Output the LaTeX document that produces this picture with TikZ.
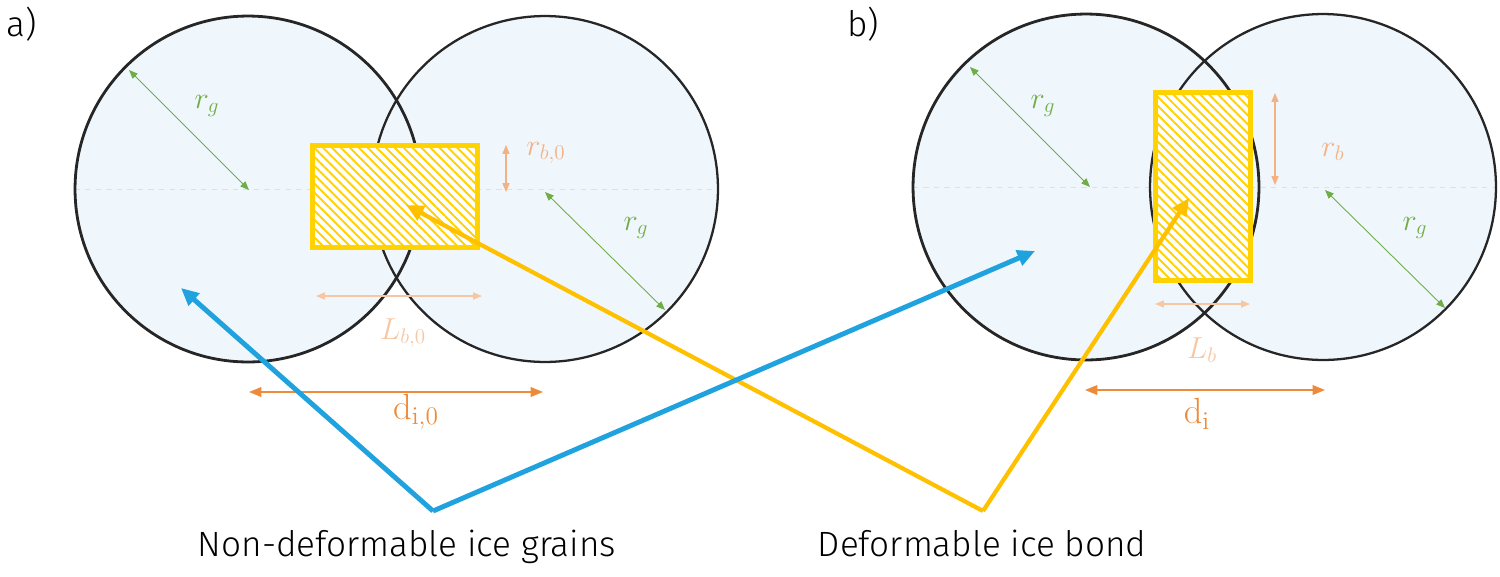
\documentclass[tikz,border=0pt]{standalone}
\usepackage[no-math]{fontspec}
\setmainfont{Fira Sans}[UprightFont={* Light}]
\usetikzlibrary{arrows.meta,patterns.meta}
\definecolor{grainfill}{HTML}{F0F7FC}
\definecolor{gr}{HTML}{70AD47}
\definecolor{lor}{HTML}{F4B183}
\definecolor{llor}{HTML}{F7C6A3}
\definecolor{dor}{HTML}{EE8B3A}
\definecolor{bl}{HTML}{1FA2DE}
\definecolor{gold}{HTML}{FFC000}
\definecolor{rectyel}{HTML}{FFD200}
\tikzset{
  grain/.style={circle,fill=grainfill,minimum size=6.92cm,inner sep=0pt},
  grainline/.style={draw=black!85,line width=1.3pt},
  bondbox/.style={draw=rectyel,line width=2.8pt,inner sep=0pt,
    preaction={fill=white},
    pattern={Lines[angle=-45,distance=3.6pt,line width=1.1pt]},pattern color=rectyel},
  rgarrow/.style={draw=gr,line width=0.5pt,{Triangle[length=5pt,width=4pt]}-{Triangle[length=5pt,width=4pt]}},
  rbarrow/.style={draw=lor,line width=0.6pt,{Triangle[length=5pt,width=4pt]}-{Triangle[length=5pt,width=4pt]}},
  darrow/.style={draw=dor,line width=0.9pt,{Triangle[length=7pt,width=5.5pt]}-{Triangle[length=7pt,width=5.5pt]}},
  bigblue/.style={draw=bl,line width=2.8pt,-{Triangle[length=10pt,width=9pt]}},
  bigyel/.style={draw=gold,line width=2.4pt,-{Triangle[length=10pt,width=9pt]}},
  centerline/.style={draw=black!12,line width=0.4pt,dashed},
  lab/.style={inner sep=0pt,font=\fontsize{20}{24}\selectfont},
  mlab/.style={inner sep=0pt,font=\fontsize{18}{22}\selectfont},
  dlab/.style={inner sep=0pt,font=\fontsize{20}{24}\selectfont},
}
\begin{document}
\begin{tikzpicture}[x=0.02cm,y=-0.02cm]
\useasboundingbox (0,0) rectangle (1500,576);
% grains
\node[grain] (a1) at (248,189) {};
\node[grain] (a2) at (545,189) {};
\node[grain] (b1) at (1086,187) {};
\node[grain] (b2) at (1323,187) {};
\draw[centerline] (a1.west) -- (a2.east);
\draw[centerline] (b1.west) -- (b2.east);
\draw[grainline,line width=1.6pt] (a1.center) circle[radius=3.46cm];
\draw[grainline] (a2.center) circle[radius=3.46cm];
\draw[grainline,line width=1.6pt] (b1.center) circle[radius=3.46cm];
\draw[grainline] (b2.center) circle[radius=3.46cm];
% bonds
\node[bondbox,minimum width=3.3cm,minimum height=2.04cm] (ra) at (395,196.5) {};
\node[bondbox,minimum width=1.9cm,minimum height=3.76cm] (rb) at (1203,186.5) {};
% panel labels
\node[lab] (pa) at (22,24) {a)};
\node[lab] (pb) at (863,24) {b)};
% dimension arrows a)
\coordinate (ag1s) at (129,70); \coordinate (ag1e) at (249,190);
\draw[rgarrow] (ag1s) -- (ag1e);
\node[mlab,text=gr] (lag1) at (207,106) {$r_g$};
\coordinate (ag2s) at (545,192); \coordinate (ag2e) at (665,310);
\draw[rgarrow] (ag2s) -- (ag2e);
\node[mlab,text=gr] (lag2) at (636,228) {$r_g$};
\coordinate (arbs) at (506,145); \coordinate (arbe) at (506,192);
\draw[rbarrow] (arbs) -- (arbe);
\node[mlab,text=lor] (larb) at (546,153) {$r_{b,0}$};
\coordinate (aLs) at (316,296); \coordinate (aLe) at (482,296);
\draw[rbarrow,draw=llor] (aLs) -- (aLe);
\node[mlab,text=llor] (laL) at (403,333) {$L_{b,0}$};
\coordinate (ads) at (249,392); \coordinate (ade) at (543,392);
\draw[darrow] (ads) -- (ade);
\node[dlab,text=dor] (lad) at (416,412) {$\mathrm{d}_{\mathrm{i},0}$};
% dimension arrows b)
\coordinate (bg1s) at (970,67); \coordinate (bg1e) at (1090,187);
\draw[rgarrow] (bg1s) -- (bg1e);
\node[mlab,text=gr] (lbg1) at (1043,106) {$r_g$};
\coordinate (bg2s) at (1325,190); \coordinate (bg2e) at (1445,308);
\draw[rgarrow] (bg2s) -- (bg2e);
\node[mlab,text=gr] (lbg2) at (1415,228) {$r_g$};
\coordinate (brbs) at (1275,93); \coordinate (brbe) at (1275,185);
\draw[rbarrow] (brbs) -- (brbe);
\node[mlab,text=lor] (lbrb) at (1333,152) {$r_b$};
\coordinate (bLs) at (1155,304); \coordinate (bLe) at (1250,304);
\draw[rbarrow,draw=llor] (bLs) -- (bLe);
\node[mlab,text=llor] (lbL) at (1202,350) {$L_b$};
\coordinate (bds) at (1085,390); \coordinate (bde) at (1325,390);
\draw[darrow] (bds) -- (bde);
\node[dlab,text=dor] (lbd) at (1197,414) {$\mathrm{d}_{\mathrm{i}}$};
% big arrows
\coordinate (bapex) at (433,511);
\coordinate (btA) at (181,288);
\coordinate (btB) at (1035,251);
\coordinate (yapex) at (983,511);
\coordinate (ytA) at (406,205);
\coordinate (ytB) at (1189,198);
\draw[bigyel] (yapex) -- (ytA);
\draw[bigyel] (yapex) -- (ytB);
\draw[bigblue] (bapex) -- (btA);
\draw[bigblue] (bapex) -- (btB);
% bottom texts
\node[lab,anchor=base] (tgrains) at (407,556) {Non-deformable ice grains};
\node[lab,anchor=base] (tbond) at (982,556) {Deformable ice bond};
\end{tikzpicture}
\end{document}
